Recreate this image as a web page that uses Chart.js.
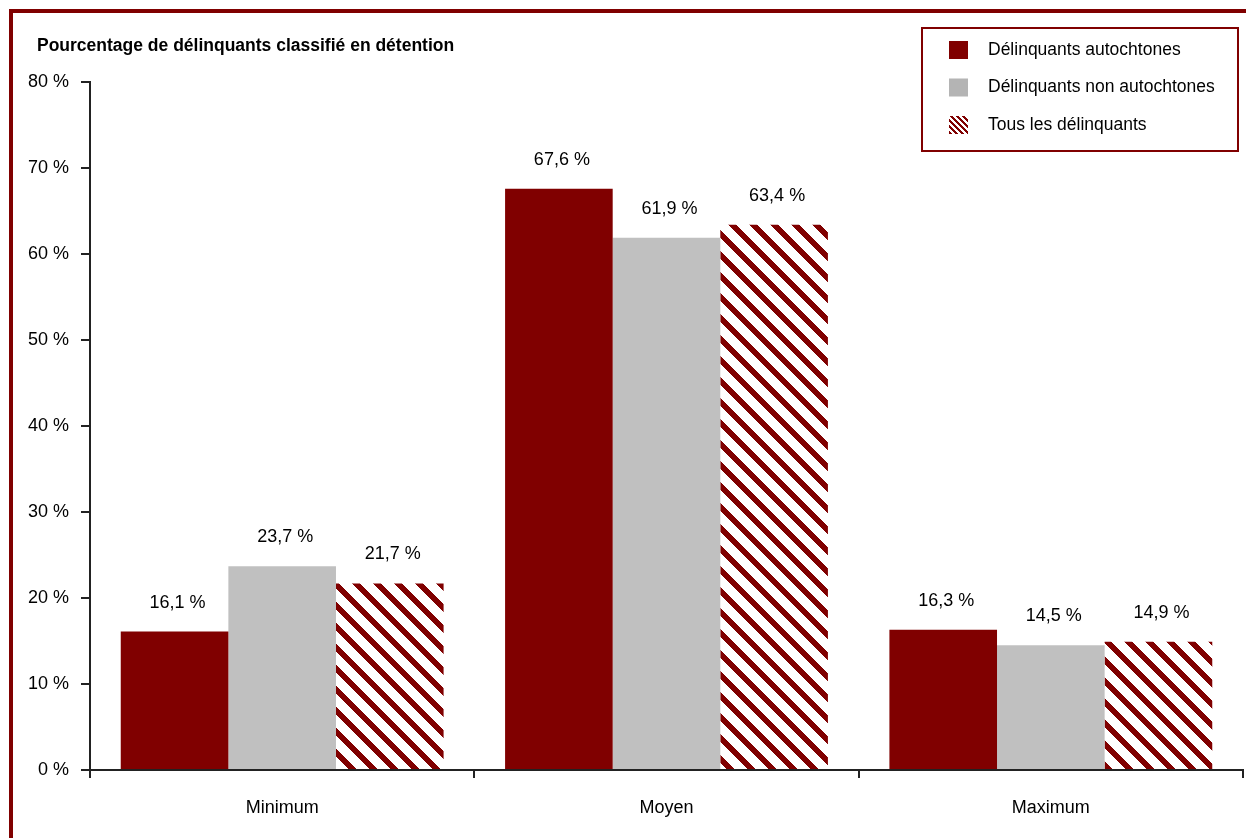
<!DOCTYPE html>
<html lang="fr">
<head>
<meta charset="utf-8">
<script src="https://cdn.jsdelivr.net/npm/chart.js@4/dist/chart.umd.min.js"></script>
<style>
  html, body { margin: 0; padding: 0; background: #fff; }
  canvas { display: block; }
</style>
</head>
<body>
<canvas id="graphique" width="1246" height="838"></canvas>
<script>
// Données
const categories = ["Minimum", "Moyen", "Maximum"];
const series = ["Délinquants autochtones", "Délinquants non autochtones", "Tous les délinquants"];
const autochtones = [16.1, 67.6, 16.3];
const nonAutochtones = [23.7, 61.9, 14.5];
const tous = [21.7, 63.4, 14.9];
const ticksY = [0, 10, 20, 30, 40, 50, 60, 70, 80];

const BORDEAUX = "#800000";
const GRIS = "#c0c0c0";
const POLICE = "'Liberation Sans', Arial, sans-serif";

// Motif de hachures diagonales
function hachures(taille, epaisseur) {
    const c = document.createElement("canvas");
    c.width = taille;
    c.height = taille;
    const cx = c.getContext("2d");
    const img = cx.createImageData(taille, taille);
    for (let y = 0; y < taille; y++) {
        for (let x = 0; x < taille; x++) {
            const i = (y * taille + x) * 4;
            const dans = ((x - y) % taille + taille) % taille < epaisseur;
            img.data[i] = dans ? 128 : 255;
            img.data[i + 1] = dans ? 0 : 255;
            img.data[i + 2] = dans ? 0 : 255;
            img.data[i + 3] = 255;
        }
    }
    cx.putImageData(img, 0, 0);
    return cx;
}

const ctx = document.getElementById("graphique").getContext("2d");
const motifBarres = ctx.createPattern(hachures(21, 8).canvas, "repeat");
const motifLegende = ctx.createPattern(hachures(6, 3).canvas, "repeat");

const couleurs = [BORDEAUX, GRIS, motifBarres];
const couleursLegende = [BORDEAUX, "#b4b4b4", motifLegende];

const fmt = v => v.toFixed(1).replace(".", ",") + " %";

// Fond, cadre, titre et légende
const decor = {
    id: "decor",
    beforeDraw(chart) {
        const c = chart.ctx;
        c.save();
        c.fillStyle = "#fff";
        c.fillRect(0, 0, chart.width, chart.height);
        c.strokeStyle = BORDEAUX;
        c.lineWidth = 4;
        c.strokeRect(11, 11, chart.width + 40, chart.height + 40);
        c.restore();
    },
    afterDraw(chart) {
        const c = chart.ctx;
        c.save();
        c.fillStyle = "#000";
        c.textBaseline = "middle";
        c.font = "bold 17.5px " + POLICE;
        c.fillText("Pourcentage de délinquants classifié en détention", 37, 46);

        // légende encadrée
        c.strokeStyle = BORDEAUX;
        c.lineWidth = 2;
        c.strokeRect(922, 28, 316, 123);
        c.font = "17.5px " + POLICE;
        series.forEach((nom, i) => {
            const y = 50 + i * 37.5;
            c.fillStyle = couleursLegende[i];
            c.fillRect(949, y - 9, 19, 18);
            c.fillStyle = "#000";
            c.fillText(nom, 988, y);
        });
        c.restore();
    }
};

// Valeurs au-dessus des barres
const etiquettes = {
    id: "etiquettes",
    afterDatasetsDraw(chart) {
        const c = chart.ctx;
        c.save();
        c.font = "18px " + POLICE;
        c.fillStyle = "#000";
        c.textAlign = "center";
        c.textBaseline = "middle";
        chart.data.datasets.forEach((ds, d) => {
            chart.getDatasetMeta(d).data.forEach((barre, i) => {
                c.fillText(fmt(ds.data[i]), barre.x + 3, barre.y - 29);
            });
        });
        c.restore();
    }
};

new Chart(ctx, {
    type: "bar",
    data: {
        labels: categories,
        datasets: [autochtones, nonAutochtones, tous].map((valeurs, i) => ({
            label: series[i],
            data: valeurs,
            backgroundColor: couleurs[i],
            borderWidth: 0,
            categoryPercentage: 0.84,
            barPercentage: 1.0
        }))
    },
    options: {
        responsive: false,
        animation: false,
        devicePixelRatio: 1,
        layout: { padding: { top: 82, right: 3, left: 0, bottom: 0 } },
        plugins: {
            legend: { display: false },
            title: { display: false },
            tooltip: { enabled: false }
        },
        scales: {
            x: {
                grid: { offset: true, drawOnChartArea: false, tickLength: 8, color: "#222", lineWidth: 2 },
                border: { color: "#222", width: 2 },
                ticks: { color: "#000", font: { family: POLICE, size: 18 }, padding: 19 },
                afterFit(scale) { scale.height = 68; }
            },
            y: {
                min: 0,
                max: 80,
                afterBuildTicks(scale) { scale.ticks = ticksY.map(v => ({ value: v })); },
                grid: { drawOnChartArea: false, tickLength: 9, color: "#222", lineWidth: 2 },
                border: { color: "#222", width: 2 },
                ticks: {
                    color: "#000",
                    font: { family: POLICE, size: 18 },
                    padding: 12,
                    callback: v => v + " %"
                },
                afterFit(scale) { scale.width = 90; }
            }
        }
    },
    plugins: [decor, etiquettes]
});
</script>
</body>
</html>
